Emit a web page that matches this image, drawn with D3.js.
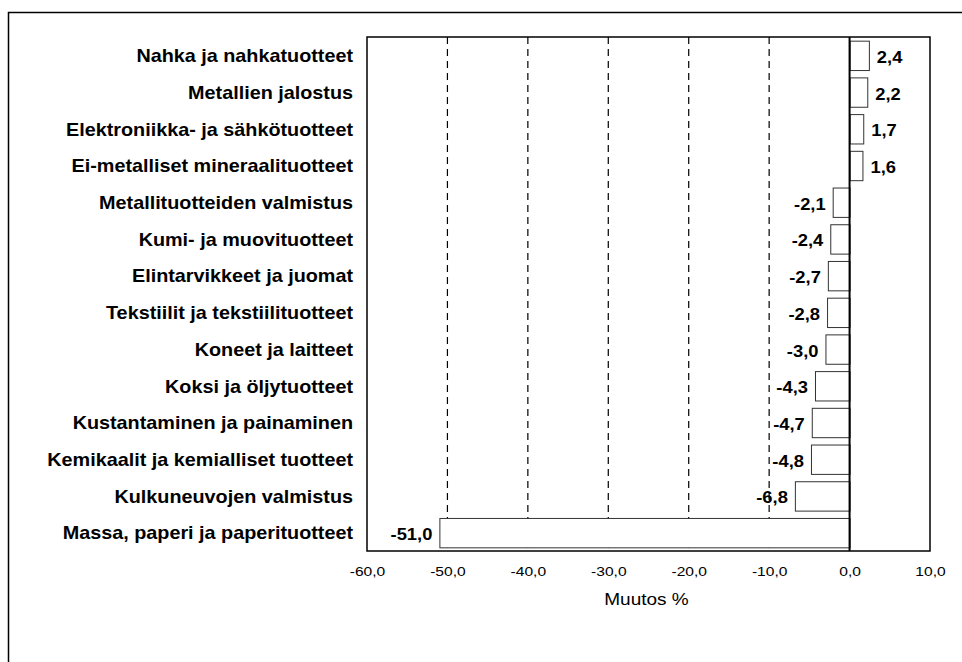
<!DOCTYPE html>
<html>
<head>
<meta charset="utf-8">
<script src="https://cdn.jsdelivr.net/npm/d3@7"></script>
<style>
  body { margin: 0; background: #fff; }
  svg { display: block; font-family: "Liberation Sans", Arial, sans-serif; }
</style>
</head>
<body>
<svg id="chart" width="962" height="662"></svg>
<script>
var categories = [
  "Nahka ja nahkatuotteet",
  "Metallien jalostus",
  "Elektroniikka- ja sähkötuotteet",
  "Ei-metalliset mineraalituotteet",
  "Metallituotteiden valmistus",
  "Kumi- ja muovituotteet",
  "Elintarvikkeet ja juomat",
  "Tekstiilit ja tekstiilituotteet",
  "Koneet ja laitteet",
  "Koksi ja öljytuotteet",
  "Kustantaminen ja painaminen",
  "Kemikaalit ja kemialliset tuotteet",
  "Kulkuneuvojen valmistus",
  "Massa, paperi ja paperituotteet"
];
var values = [2.4, 2.2, 1.7, 1.6, -2.1, -2.4, -2.7, -2.8, -3.0, -4.3, -4.7, -4.8, -6.8, -51.0];
var xTicks = [-60, -50, -40, -30, -20, -10, 0, 10];
var gridTicks = [-50, -40, -30, -20, -10];
var axisTitle = "Muutos %";

var svg = d3.select("#chart");
var fmt = function(v) { return d3.format(".1f")(v).replace(".", ",").replace("−", "-"); };

// outer frame (runs off the right and bottom of the picture)
svg.append("rect")
  .attr("x", 8.5).attr("y", 12.5)
  .attr("width", 1000).attr("height", 1000)
  .attr("fill", "none").attr("stroke", "#000").attr("stroke-width", 1.5);

var plotLeft = 367, plotRight = 930, plotTop = 37, plotBottom = 551;

var x = d3.scaleLinear().domain([-60, 10]).range([plotLeft, plotRight]);
var y = d3.scaleBand().domain(categories).range([plotTop, plotBottom]).paddingInner(0.2).paddingOuter(0.1);

// dashed gridlines
svg.append("g").selectAll("line").data(gridTicks).join("line")
  .attr("x1", d => x(d)).attr("x2", d => x(d))
  .attr("y1", plotTop).attr("y2", plotBottom)
  .attr("stroke", "#000").attr("stroke-width", 1.2)
  .attr("stroke-dasharray", "7,5");

// bars
var rows = categories.map((c, i) => ({ c: c, v: values[i] }));
svg.append("g").selectAll("rect").data(rows).join("rect")
  .attr("x", d => x(Math.min(0, d.v)) + 0.5)
  .attr("y", d => y(d.c) + 0.5)
  .attr("width", d => Math.abs(x(d.v) - x(0)))
  .attr("height", y.bandwidth())
  .attr("fill", "#fff").attr("stroke", "#333").attr("stroke-width", 1);

// zero line
svg.append("line")
  .attr("x1", x(0)).attr("x2", x(0))
  .attr("y1", plotTop).attr("y2", plotBottom)
  .attr("stroke", "#000").attr("stroke-width", 2);

// plot border
svg.append("rect")
  .attr("x", plotLeft).attr("y", plotTop)
  .attr("width", plotRight - plotLeft).attr("height", plotBottom - plotTop)
  .attr("fill", "none").attr("stroke", "#000").attr("stroke-width", 1.5);

// value labels (text is a bit wide in the original, so stretch it sideways)
svg.append("g").selectAll("text").data(rows).join("text")
  .attr("transform", d => "translate(" + (d.v >= 0 ? x(d.v) + 8 : x(d.v) - 7) + "," +
        (y(d.c) + y.bandwidth() / 2 + 1.5) + ") scale(1.08,1)")
  .attr("dy", "0.35em")
  .attr("text-anchor", d => d.v >= 0 ? "start" : "end")
  .attr("font-size", 17).attr("font-weight", "bold")
  .text(d => fmt(d.v));

// category labels
var yAxis = svg.append("g")
  .attr("transform", "translate(" + (plotLeft - 14) + ",1)")
  .call(d3.axisLeft(y).tickSize(0).tickPadding(0));
yAxis.select(".domain").remove();
yAxis.selectAll("text")
  .attr("transform", "scale(1.1,1)")
  .attr("font-size", 18).attr("font-weight", "bold")
  .attr("font-family", "Liberation Sans, Arial, sans-serif")
  .attr("fill", "#000");

// x axis labels
var xAxis = svg.append("g")
  .attr("transform", "translate(0," + plotBottom + ")")
  .call(d3.axisBottom(x).tickValues(xTicks).tickSize(0).tickPadding(16).tickFormat(fmt));
xAxis.select(".domain").remove();
xAxis.selectAll("text")
  .attr("transform", "scale(1.2,1)")
  .attr("font-size", 13)
  .attr("font-family", "Liberation Sans, Arial, sans-serif")
  .attr("fill", "#000");

svg.append("text")
  .attr("transform", "translate(" + ((plotLeft + plotRight) / 2 - 2) + ",605) scale(1.12,1)")
  .attr("text-anchor", "middle")
  .attr("font-size", 17)
  .text(axisTitle);
</script>
</body>
</html>
